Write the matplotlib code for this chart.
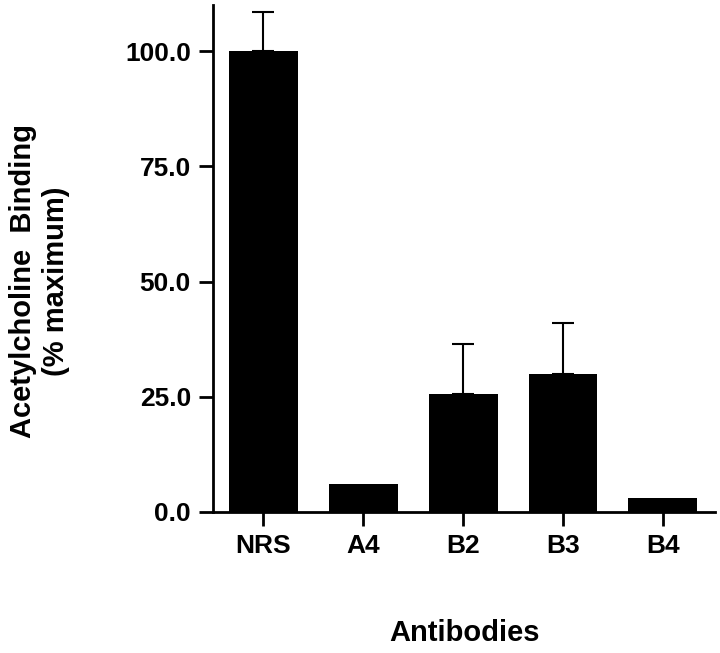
import matplotlib
matplotlib.use("Agg")
import matplotlib.pyplot as plt

categories = ["NRS", "A4", "B2", "B3", "B4"]
values = [100.0, 6.0, 25.5, 30.0, 3.0]
errors = [8.5, 0.0, 11.0, 11.0, 0.0]

plt.rcParams['font.family'] = ['Liberation Sans', 'DejaVu Sans']
fig = plt.figure(figsize=(7.2, 6.53), dpi=100)
ax = fig.add_axes([0.296, 0.216, 0.697, 0.776])
x = list(range(len(categories)))
ax.bar(x, values, width=0.69, color='black')
for xi, v, e in zip(x, values, errors):
    if e > 0:
        ax.errorbar([xi], [v], yerr=[[0], [e]], fmt='none', ecolor='black',
                    elinewidth=1.5, capsize=8, capthick=1.5)
ax.set_xlim(-0.5, 4.52)
ax.set_ylim(0, 110)
ax.set_yticks([0, 25, 50, 75, 100])
ax.set_yticklabels(["0.0", "25.0", "50.0", "75.0", "100.0"])
ax.set_xticks(x)
ax.set_xticklabels(categories)
for s in ['top', 'right']:
    ax.spines[s].set_visible(False)
for s in ['left', 'bottom']:
    ax.spines[s].set_linewidth(2)
ax.tick_params(width=2, length=10, labelsize=19, pad=6)
for t in ax.get_xticklabels() + ax.get_yticklabels():
    t.set_fontweight('bold')
fig.text(0.055, 0.57, "Acetylcholine  Binding\n(% maximum)", fontsize=21, fontweight='bold',
         rotation=90, ha='center', va='center', multialignment='center')
fig.text(0.645, 0.03, "Antibodies", fontsize=21, fontweight='bold', ha='center', va='center')
fig.savefig("out.png", dpi=100)
